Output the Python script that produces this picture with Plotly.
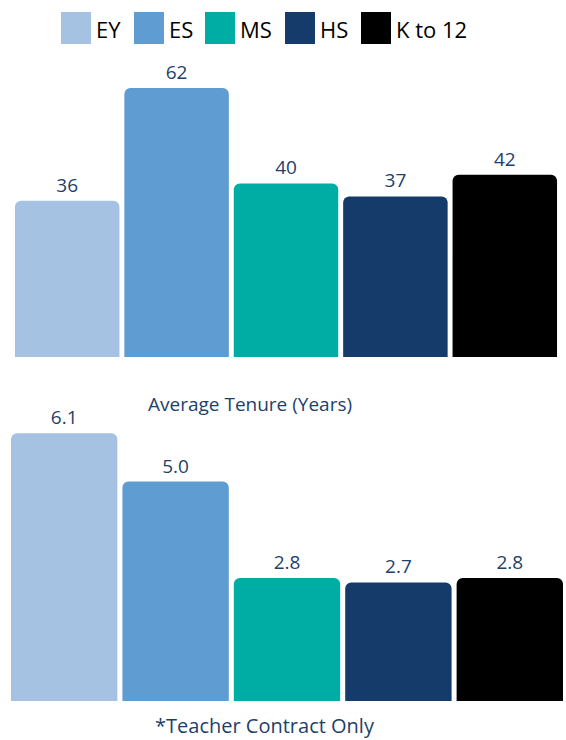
import plotly.graph_objects as go

categories = ["EY", "ES", "MS", "HS", "K to 12"]
tenure_top = [36, 62, 40, 37, 42]
tenure_bottom = [6.1, 5.0, 2.8, 2.7, 2.8]
bottom_labels = ["6.1", "5.0", "2.8", "2.7", "2.8"]
colors = ["#A5C2E2", "#5E9CD1", "#00ADA5", "#143B69", "#000000"]

W, H = 566, 740
FONT = "Open Sans"
NAVY = "#1E3F6A"
GAP = 0.045

fig = go.Figure()
fig.add_trace(go.Bar(
    x=categories, y=tenure_top,
    marker=dict(color=colors, cornerradius=6, line=dict(width=0)),
    text=[str(v) for v in tenure_top], textposition="outside",
    textfont=dict(family=FONT, size=19, color=NAVY),
    cliponaxis=False, showlegend=False, xaxis="x", yaxis="y",
))
fig.add_trace(go.Bar(
    x=categories, y=tenure_bottom,
    marker=dict(color=colors, cornerradius=6, line=dict(width=0)),
    text=bottom_labels, textposition="outside",
    textfont=dict(family=FONT, size=19, color=NAVY),
    cliponaxis=False, showlegend=False, xaxis="x2", yaxis="y2",
))

def py(p):
    return 1 - p / H

# legend built from categories
sq_x = [61, 134, 205, 285, 361]
shapes = []
annotations = []
for i, c in enumerate(categories):
    shapes.append(dict(type="rect", xref="paper", yref="paper",
                       x0=sq_x[i] / W, x1=(sq_x[i] + 30) / W,
                       y0=py(44), y1=py(12),
                       fillcolor=colors[i], line=dict(width=0)))
    annotations.append(dict(text=c, xref="paper", yref="paper",
                            x=(sq_x[i] + 33) / W, y=py(29),
                            xanchor="left", yanchor="middle", showarrow=False,
                            font=dict(family=FONT, size=22, color="#000000")))

annotations.append(dict(text="Average Tenure (Years)", xref="paper", yref="paper",
                        x=250 / W, y=py(404), xanchor="center", yanchor="middle",
                        showarrow=False, font=dict(family=FONT, size=19, color=NAVY)))
annotations.append(dict(text="*Teacher Contract Only", xref="paper", yref="paper",
                        x=265 / W, y=py(725), xanchor="center", yanchor="middle",
                        showarrow=False, font=dict(family=FONT, size=20, color=NAVY)))

fig.update_layout(
    width=W, height=H,
    margin=dict(l=0, r=0, t=0, b=0),
    paper_bgcolor="white", plot_bgcolor="white",
    bargap=GAP,
    showlegend=False,
    xaxis=dict(domain=[12.5 / W, 559.5 / W], anchor="y", visible=False),
    yaxis=dict(domain=[py(357), py(60)], range=[0, 297 / 4.34], visible=False),
    xaxis2=dict(domain=[8.5 / W, 565.5 / W], anchor="y2", visible=False),
    yaxis2=dict(domain=[py(701), py(420)], range=[0, 281 / 43.9], visible=False),
    shapes=shapes,
    annotations=annotations,
)

fig.write_html(
    "out.html",
    config={"displayModeBar": False},
    post_script="document.body.style.margin='0';document.body.style.overflow='hidden';",
)
